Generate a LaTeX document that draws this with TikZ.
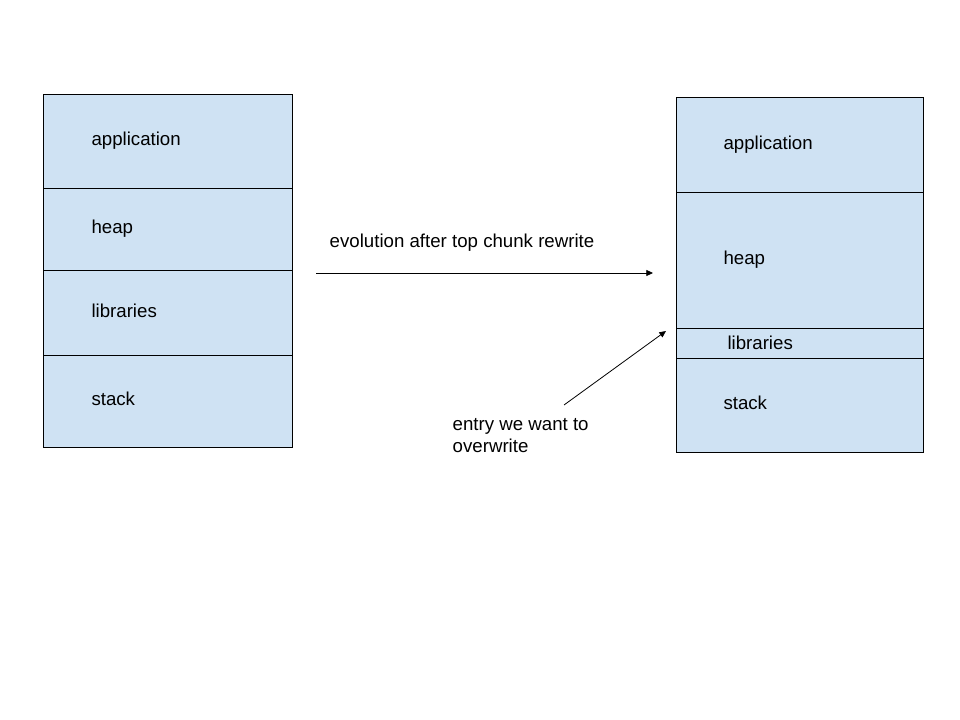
\documentclass[tikz,border=0pt]{standalone}
\usepackage{fontspec}
\setmainfont{Liberation Sans}
\usepackage{xcolor}
\usetikzlibrary{positioning,arrows.meta}
\definecolor{segblue}{HTML}{CFE2F3}

\begin{document}
\begin{tikzpicture}[x=0.75pt,y=-0.75pt,font=\fontsize{14pt}{16.5pt}\selectfont,
    seg/.style={draw, fill=segblue, line width=0.6pt, rectangle, outer sep=0pt,
        inner xsep=35.5pt, text width=114pt, align=left},
    >={Triangle[length=5pt,width=4.5pt]}]

\useasboundingbox (0,0) rectangle (960,720);

% memory layout before
\node[seg,
    anchor=north west,
    minimum width=186.75pt,
    minimum height=70.5pt
] (Lapp) at (43,94) { application };

\node[seg,
    below=0pt of Lapp,
    minimum width=186.75pt,
    minimum height=61.5pt
] (Lheap) { heap };

\node[seg,
    below=0pt of Lheap,
    minimum width=186.75pt,
    minimum height=63.75pt
] (Llib) { \raisebox{3pt}{libraries} };

\node[seg,
    below=0pt of Llib,
    minimum width=186.75pt,
    minimum height=69pt
] (Lstack) { \raisebox{3pt}{stack} };

% memory layout after
\node[seg,
    anchor=north west,
    minimum width=185.25pt,
    minimum height=71.25pt
] (Rapp) at (676,97) { \raisebox{-2pt}{application} };

\node[seg,
    below=0pt of Rapp,
    minimum width=185.25pt,
    minimum height=102pt
] (Rheap) { \raisebox{3pt}{heap} };

\node[seg,
    below=0pt of Rheap,
    minimum width=185.25pt,
    minimum height=22.5pt,
    inner ysep=1pt
] (Rlib) { \hspace*{3pt}libraries };

\node[seg,
    below=0pt of Rlib,
    minimum width=185.25pt,
    minimum height=70.5pt
] (Rstack) { \raisebox{3pt}{stack} };

% arrows
\coordinate (evoA) at (316,273);
\coordinate (evoB) at (653,273);
\coordinate (entA) at (564,405);
\coordinate (entB) at (666,331);

\node[anchor=west] (evoText) at (325,243) { evolution after top chunk rewrite };
\node[anchor=west, align=left] (entText) at (448,436) { entry we want to\\overwrite };

\draw[->, line width=0.6pt] (evoA) -- (evoB);
\draw[->, line width=0.6pt] (entA) -- (entB);

\end{tikzpicture}
\end{document}
